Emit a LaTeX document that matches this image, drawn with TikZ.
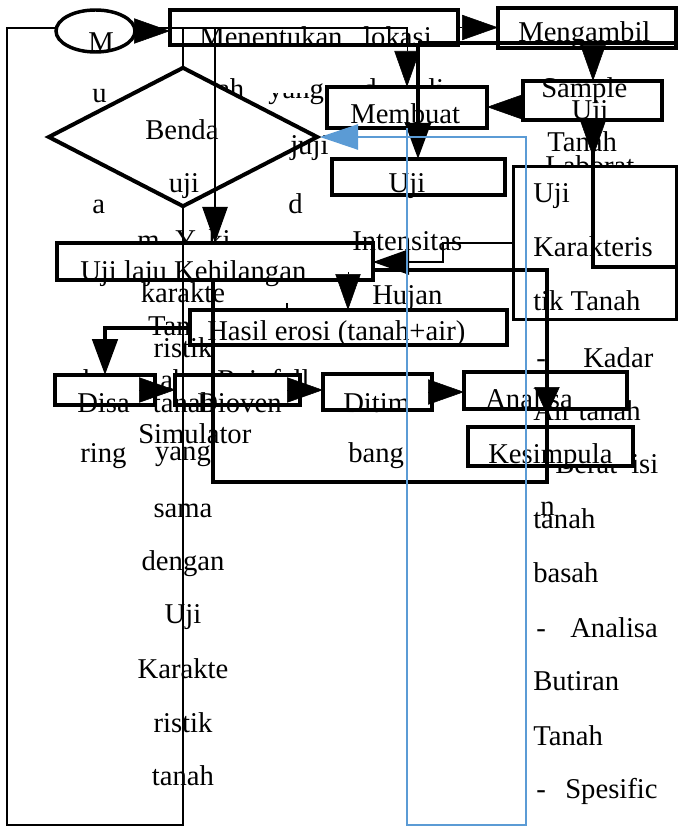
\documentclass[tikz,border=0pt]{standalone}
\usepackage{fontspec}
\setmainfont{Liberation Serif}
\usetikzlibrary{arrows.meta,shapes.geometric,fit}
\definecolor{bl}{HTML}{5B9BD5}
\newcommand\tnrfont{\fontsize{21.5pt}{26pt}\selectfont}
\begin{document}
\begin{tikzpicture}[x=0.75pt,y=-0.75pt,
  box/.style={draw,line width=3pt,fill=white,inner sep=0pt,outer sep=0pt},
  thk/.style={line width=3pt},
  thn/.style={line width=1pt},
  arr/.style={-{Triangle[length=27pt,width=19pt]}},
  sarr/.style={-{Triangle[length=21pt,width=19pt]}},
  barr/.style={-{Triangle[length=28.5pt,width=19pt]}},
  tw/.style={inner sep=0pt,anchor=base west,font=\tnrfont},
  tc/.style={inner sep=0pt,anchor=base,font=\tnrfont}]
\useasboundingbox (0,0) rectangle (679,827);
% ---- partly hidden texts (drawn first)
\node[tw] (h1) at (217,99) {ah};
\begin{scope}
\clip (262,93) rectangle (309,112) (309,80) rectangle (330,112);
\node[tw] (h2) at (268,99) {yang};
\end{scope}
\node[tw] (h3) at (362,99) {d};
\node[tw] (h4) at (428,99) {li};
\node[tw] (h5) at (137,249) {m};
\node[tw] (h6) at (175,249) {Y};
\node[tw] (h7) at (208,249) {ki};
\node[tc] (h8) at (183,335) {Tanah};
\node[tw] (h9) at (83,389) {b};
\node[tw] (h10) at (160,389) {ah};
\node[tw] (h11) at (217,389) {Rainfall};
\node[tw] (h12) at (545,176) {Laborat};
\node[tw] (h13) at (533,420) {Air tanah};
\node[tw] (h14) at (536,473) {-};
\node[tw] (h15) at (555,473) {Berat};
\node[tw] (h16) at (631,473) {isi};
% ---- boxes
\node[box,fit={(170,10)(458,45)}] (ment) {};
\node[box,fit={(498,8)(676,48)}] (meng) {};
\node[box,fit={(327,87)(487,128)}] (memb) {};
\node[box,fit={(523,81)(662,120)}] (samp) {};
\node[box,fit={(332,159)(505,195)}] (ujii) {};
\node[box,line width=2.25pt,fit={(513,167)(676,319)}] (ujik) {};
\node[box,fit={(57,243)(373,280)}] (ujil) {};
\node[box,fit={(190,310)(507,345)}] (hasil) {};
\node[box,fit={(55,375)(155,405)}] (disa) {};
\node[box,fit={(175,375)(300,405)}] (diov) {};
\node[box,fit={(323,374)(432,410)}] (ditim) {};
\node[box,fit={(464,372)(627,409)}] (anal) {};
\node[box,fit={(468,427)(633,466)}] (kesi) {};
% ---- thick connectors
\coordinate (j1) at (418,43);
\coordinate (j2) at (676,43);
\coordinate (j3) at (593,43);
\coordinate (m1) at (407,45);
\coordinate (j4) at (593,120);
\coordinate (j5) at (593,267);
\coordinate (j6) at (676,267);
\coordinate (s1) at (523,107);
\coordinate (h0) at (348,272);
\draw[arr] (ment.east) -- (ment.east -| meng.west);
\draw[thk] (j1) -- (j2);
\draw[arr] (m1) -- (m1 |- memb.north);
\draw[thk,arr] (j1) -- (j1 |- ujii.north);
\draw[arr] (j3) -- (j3 |- samp.north);
\draw[arr] (s1) -- (s1 -| memb.east);
\draw[thk] (j4) -- (j5) -- (j6);
\draw[arr] (j4) -- ++(0,37);
\draw[arr] (h0) -- (h0 |- hasil.north);
\draw[thk,arr] (hasil.west) -| (disa.north);
\draw[arr] (disa.east) -- (diov.west);
\draw[arr] (diov.east) -- (diov.east -| ditim.west);
\draw[arr] (ditim.east) -- (ditim.east -| anal.west);
% big thick frame
\coordinate (r1) at (373,270);
\coordinate (r2) at (547,270);
\coordinate (r3) at (547,482);
\coordinate (r4) at (213,482);
\coordinate (r5) at (213,280);
\coordinate (r6) at (547,380);
\draw[thk] (r1) -- (r2) -- (r3) -- (r4) -- (r5);
\draw[sarr] (r6) -- ++(0,35);
% thin arrow from Uji Karakteristik to Uji laju
\coordinate (k1) at (513,243);
\coordinate (k2) at (443,243);
\coordinate (k3) at (443,262);
\draw[thn,arr] (k1) -- (k2) -- (k3) -- (k3 -| ujil.east);
\coordinate (tk) at (287,303);
\draw[thn] (tk) -- (tk |- hasil.north);
% thin frame lines
\coordinate (f1) at (407,43);
\coordinate (f2) at (407,28);
\coordinate (f3) at (7,28);
\coordinate (f4) at (7,825);
\coordinate (f5) at (183,825);
\coordinate (f6) at (183,28);
\draw[thn] (f1) -- (f2) -- (f3) -- (f4) -- (f5) -- (f6);
% ellipse and diamond
\node[box,line width=2.6pt,ellipse,minimum width=59.25pt,minimum height=31.5pt] (ell) at (95.5,31) {};
\draw[arr] (ell.east) -- (ell.east -| ment.west);
\node[draw,line width=3pt,fill=white,diamond,inner sep=0pt,minimum width=202.5pt,minimum height=105pt] (dia) at (183,137) {};
\coordinate (t1) at (215,28);
\draw[thn,arr] (t1) -- (t1 |- ujil.north);
% ---- visible texts
\node[tw] (x1) at (88,52) {M};
\node[tw] (x2) at (199,47) {Menentukan};
\node[tw] (x3) at (363,47) {lokasi};
\node[tw] (x4) at (518,42) {Mengambil};
\node[tw] (x5) at (92,103) {u};
\node[tw] (x6) at (145,140) {Benda};
\node[tw] (x7) at (290,155) {juji};
\node[tc] (x8) at (184,193) {uji};
\node[tw] (x9) at (92,214) {a};
\node[tw] (x10) at (288,214) {d};
\node[tw] (x11) at (350,124) {Membuat};
\node[tw] (x12) at (541,98) {Sample};
\node[tc] (x13) at (590,120) {Uji};
\node[tw] (x14) at (547,152) {Tanah};
\node[tc] (x15) at (407,193) {Uji};
\node[tw] (x16) at (352,250) {Intensitas};
\node[tw] (x17) at (80,280) {Uji laju Kehilangan};
\node[tw] (x18) at (372,304) {Hujan};
\node[tc] (x19) at (183,302) {karakte};
\node[tc] (x20) at (183,357) {ristik};
\node[tw] (x21) at (207,340) {Hasil erosi (tanah+air)};
\node[tw] (x22) at (77,412) {Disa};
\node[tc] (x23) at (184,412) {tanah};
\node[tw] (x24) at (197,412) {Dioven};
\node[tw] (x25) at (343,412) {Ditim};
\node[tw] (x26) at (348,462) {bang};
\node[tw] (x27) at (485,408) {Analisa};
\node[tw] (x28) at (488,463) {Kesimpula};
\node[tw] (x29) at (540,515) {n};
\node[tw] (x30) at (138,443) {Simulator};
\node[tc] (x31) at (183,460) {yang};
\node[tw] (x32) at (80,462) {ring};
\node[tc] (x33) at (183,517) {sama};
\node[tc] (x34) at (183,570) {dengan};
\node[tc] (x35) at (183,623) {Uji};
\node[tc] (x36) at (183,678) {Karakte};
\node[tc] (x37) at (183,732) {ristik};
\node[tc] (x38) at (183,785) {tanah};
\node[tw] (x39) at (533,203) {Uji};
\node[tw] (x40) at (533,257) {Karakteris};
\node[tw] (x41) at (533,310) {tik Tanah};
\node[tw] (x42) at (536,367) {-};
\node[tw] (x43) at (583,367) {Kadar};
\node[tw] (x44) at (533,528) {tanah};
\node[tw] (x45) at (533,582) {basah};
\node[tw] (x46) at (536,637) {-};
\node[tw] (x47) at (570,637) {Analisa};
\node[tw] (x48) at (533,690) {Butiran};
\node[tw] (x49) at (533,745) {Tanah};
\node[tw] (x50) at (536,798) {-};
\node[tw] (x51) at (565,798) {Spesific};
% ---- blue loop
\coordinate (b1) at (407,825);
\coordinate (b2) at (526,825);
\coordinate (b3) at (526,137);
\draw[bl,thn,barr] (memb.south -| b1) -- (b1) -- (b2) -- (b3) -- (dia.east);
\end{tikzpicture}
\end{document}
